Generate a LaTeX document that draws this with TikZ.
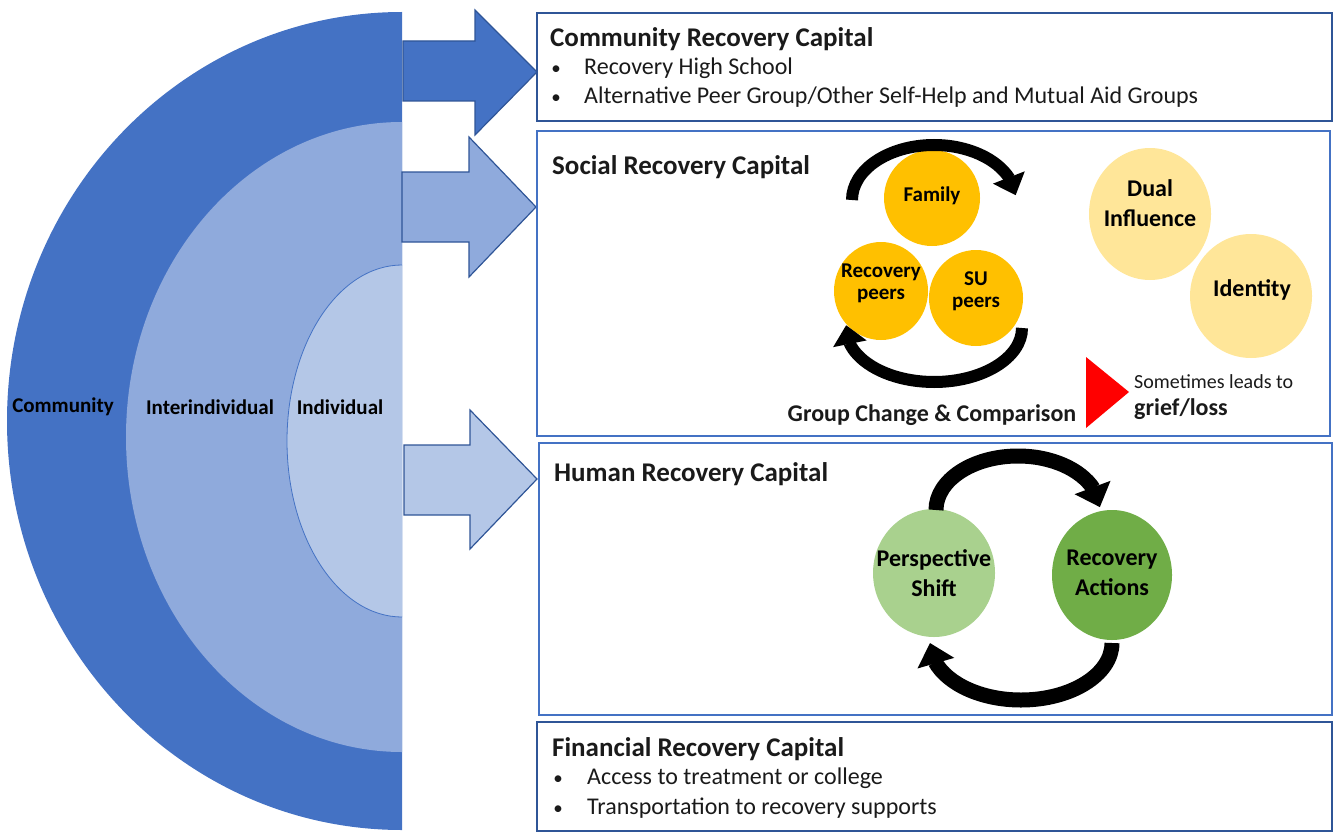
\documentclass[tikz,border=0pt]{standalone}
\usepackage{fontspec}
\setmainfont{Carlito}
\usetikzlibrary{arrows.meta,bending}

\definecolor{ringdark}{HTML}{4472C4}
\definecolor{ringmid}{HTML}{8FAADC}
\definecolor{ringlight}{HTML}{B4C7E7}
\definecolor{edgedark}{HTML}{2F5597}
\definecolor{goldfill}{HTML}{FFC000}
\definecolor{palegold}{HTML}{FFE699}
\definecolor{leaflight}{HTML}{A9D18E}
\definecolor{leafdark}{HTML}{70AD47}
\definecolor{inktext}{HTML}{1A1A1A}

\tikzset{
  panel/.style={line width=2pt},
  blockarrow/.style={draw=edgedark, line width=1.2pt, line join=miter},
  title/.style={anchor=base west, inner sep=0pt, text=inktext,
    font=\fontsize{27}{32}\selectfont\bfseries},
  item/.style={anchor=base west, inner sep=0pt, text=inktext,
    font=\fontsize{24}{28}\selectfont},
  dot/.style={anchor=base, inner sep=0pt, text=inktext,
    font=\fontsize{19}{24}\selectfont},
  ringlabel/.style={inner sep=0pt, text=black,
    font=\fontsize{21}{25}\selectfont\bfseries},
  smalltext/.style={inner sep=0pt, align=center, text=black,
    font=\fontsize{21}{25}\selectfont\bfseries},
  bigtext/.style={inner sep=0pt, align=center, text=black,
    font=\fontsize{24}{30}\selectfont\bfseries},
  cyclearrow/.style={line width=12pt, -{Triangle[width=33pt,length=19pt]}},
  cyclearrowwide/.style={line width=15pt, -{Triangle[width=37pt,length=21pt]}}
}

\begin{document}
\begin{tikzpicture}[x=1pt,y=-1pt]
  \useasboundingbox (0,0) rectangle (1340,832);

  % nested half discs
  \fill[ringdark] (402,12) arc[start angle=270, end angle=90, x radius=395, y radius=409] -- cycle;
  \fill[ringmid] (402,122) arc[start angle=270, end angle=90, x radius=276, y radius=315] -- cycle;
  \filldraw[fill=ringlight, draw=ringdark, line width=0.8pt]
    (402,265) arc[start angle=270, end angle=90, x radius=115, y radius=176];
  \node[ringlabel] (lcommunity) at (63,407) {Community};
  \node[ringlabel] (linter) at (210,407) {Interindividual};
  \node[ringlabel] (lindiv) at (340,407) {Individual};

  % block arrows
  \filldraw[blockarrow, fill=ringdark] (403,41) -- (475,41) -- (475,10) -- (537,72)
    -- (475,135) -- (475,101) -- (403,101) -- cycle;
  \filldraw[blockarrow, fill=ringmid] (402,172) -- (469,172) -- (469,137) -- (536,207)
    -- (469,277) -- (469,242) -- (402,242) -- cycle;
  \filldraw[blockarrow, fill=ringlight] (404,445) -- (470,445) -- (470,410) -- (537,479)
    -- (470,549) -- (470,515) -- (404,515) -- cycle;

  % panels
  \draw[panel, draw=edgedark] (537,13) rectangle (1332,121);
  \draw[panel, draw=ringdark] (537,131) rectangle (1330,436);
  \draw[panel, draw=ringdark] (539,443) rectangle (1332,715);
  \draw[panel, draw=edgedark] (537,722) rectangle (1332,831);

  % community recovery capital
  \node[title] (ctitle) at (550,47) {Community Recovery Capital};
  \node[dot] (cb1) at (556,75) {\textbullet};
  \node[item] (ci1) at (584,75) {Recovery High School};
  \node[dot] (cb2) at (556,104) {\textbullet};
  \node[item] (ci2) at (584,104) {Alternative Peer Group/Other Self-Help and Mutual Aid Groups};

  % social recovery capital
  \node[title] (stitle) at (552,174) {Social Recovery Capital};
  \fill[goldfill] (932,198) ellipse[x radius=48, y radius=48];
  \fill[goldfill] (881,291) ellipse[x radius=47, y radius=49];
  \fill[goldfill] (976,298) ellipse[x radius=47, y radius=48];
  \node[smalltext] (family) at (932,196) {Family};
  \node[smalltext] (rpeers) at (881,283) {Recovery\\[-3pt]peers};
  \node[smalltext] (supeers) at (976,291) {SU\\[-3pt]peers};
  \draw[cyclearrow] (852,200) arc[start angle=180, end angle=355, x radius=82, y radius=55];
  \draw[cyclearrow] (1022,328) arc[start angle=0, end angle=183, x radius=88, y radius=54];
  \fill[palegold] (1150,214) ellipse[x radius=61, y radius=66];
  \fill[palegold] (1251,296) ellipse[x radius=61, y radius=62];
  \node[bigtext] (dual) at (1150,203) {Dual\\Influence};
  \node[bigtext] (identity) at (1252,290) {Identity};
  \node[anchor=base, inner sep=0pt, text=inktext, font=\fontsize{24}{28}\selectfont\bfseries]
    (group) at (932,421) {Group Change \& Comparison};
  \fill[red] (1086,357) -- (1129,392) -- (1086,428) -- cycle;
  \node[anchor=base west, inner sep=0pt, text=inktext, font=\fontsize{20}{24}\selectfont]
    (sometimes) at (1134,388) {Sometimes leads to};
  \node[anchor=base west, inner sep=0pt, text=inktext, font=\fontsize{24}{28}\selectfont\bfseries]
    (grief) at (1134,415) {grief/loss};

  % human recovery capital
  \node[title] (htitle) at (554,481) {Human Recovery Capital};
  \fill[leaflight] (934,573) ellipse[x radius=61, y radius=64];
  \fill[leafdark] (1112,575) ellipse[x radius=60, y radius=65];
  \node[bigtext] (shift) at (934,573) {Perspective\\Shift};
  \node[bigtext] (actions) at (1112,573) {Recovery\\Actions};
  \draw[cyclearrowwide] (936,510) arc[start angle=180, end angle=357, x radius=82, y radius=54];
  \draw[cyclearrowwide] (1112,643) arc[start angle=0, end angle=180, x radius=91, y radius=57];

  % financial recovery capital
  \node[title] (ftitle) at (552,756) {Financial Recovery Capital};
  \node[dot] (fb1) at (558,784) {\textbullet};
  \node[item] (fi1) at (587,784) {Access to treatment or college};
  \node[dot] (fb2) at (558,814) {\textbullet};
  \node[item] (fi2) at (587,814) {Transportation to recovery supports};
\end{tikzpicture}
\end{document}
